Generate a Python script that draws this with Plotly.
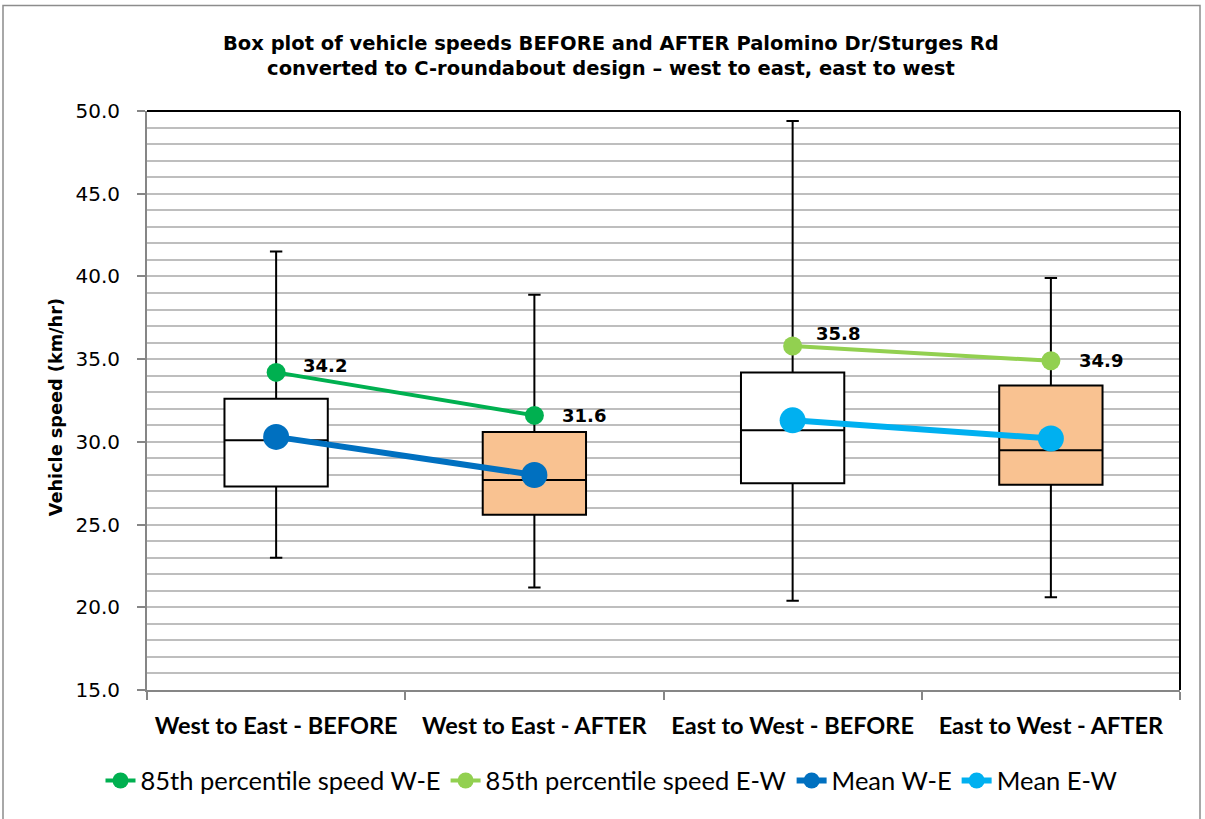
import plotly.graph_objects as go

# ---------------- data ----------------
categories = ["West to East - BEFORE", "West to East - AFTER",
              "East to West - BEFORE", "East to West - AFTER"]
box_lower = [23.0, 21.2, 20.4, 20.6]
box_q1 = [27.3, 25.6, 27.5, 27.4]
box_median = [30.1, 27.7, 30.7, 29.5]
box_q3 = [32.6, 30.6, 34.2, 33.4]
box_upper = [41.5, 38.9, 49.4, 39.9]
box_fill = ["#FFFFFF", "#F9C291", "#FFFFFF", "#F9C291"]

p85_we = [34.2, 31.6]
p85_ew = [35.8, 34.9]
mean_we = [30.3, 28.0]
mean_ew = [31.3, 30.2]
we_cats = categories[:2]
ew_cats = categories[2:]

title_text = ("<b>Box plot of vehicle speeds BEFORE and AFTER Palomino Dr/Sturges Rd<br>"
              "converted to C-roundabout design \u2013 west to east, east to west</b>")
y_title = "<b>Vehicle speed (km/hr)</b>"

F_DV = "DejaVu Sans"
F_HUM = "Lato"

fig = go.Figure()

for i, c in enumerate(categories):
    fig.add_trace(go.Box(
        x=[c], q1=[box_q1[i]], median=[box_median[i]], q3=[box_q3[i]],
        lowerfence=[box_lower[i]], upperfence=[box_upper[i]],
        fillcolor=box_fill[i], line=dict(color="black", width=2),
        width=0.4, whiskerwidth=0.12, boxpoints=False,
        showlegend=False, hoverinfo="skip"))

fig.add_trace(go.Scatter(x=we_cats, y=p85_we, mode="lines+markers",
                         name="85th percentile speed W-E",
                         line=dict(color="#00B050", width=4),
                         marker=dict(size=19, color="#00B050")))
fig.add_trace(go.Scatter(x=ew_cats, y=p85_ew, mode="lines+markers",
                         name="85th percentile speed E-W",
                         line=dict(color="#92D050", width=4),
                         marker=dict(size=19, color="#92D050")))
fig.add_trace(go.Scatter(x=we_cats, y=mean_we, mode="lines+markers",
                         name="Mean W-E",
                         line=dict(color="#0070C0", width=6),
                         marker=dict(size=26, color="#0070C0")))
fig.add_trace(go.Scatter(x=ew_cats, y=mean_ew, mode="lines+markers",
                         name="Mean E-W",
                         line=dict(color="#00B0F0", width=6),
                         marker=dict(size=26, color="#00B0F0")))

# label offsets (px) for [before, after] points
label_xshift = [[25, 26], [21, 26]]
label_yshift = [[7, 0], [12, 0]]

annotations = []
for gi, (cats, vals) in enumerate(((we_cats, p85_we), (ew_cats, p85_ew))):
    for j, (c, v) in enumerate(zip(cats, vals)):
        annotations.append(dict(x=c, y=v, xref="x", yref="y", text=f"<b>{v:.1f}</b>",
                                showarrow=False, xanchor="left", yanchor="middle",
                                xshift=label_xshift[gi][j], yshift=label_yshift[gi][j],
                                font=dict(family=F_DV, size=18, color="black")))

# plot area: left 147, right 1180, top 110.5, bottom 690
L, R, T, B = 147, 1180, 110.5, 690
W, H = 1205, 819
pw, ph = R - L, B - T

def px(x):
    return (x - L) / pw

def py(y):
    return (B - y) / ph

annotations.append(dict(x=px(611), y=py(55), xref="paper", yref="paper",
                        text=title_text, showarrow=False,
                        xanchor="center", yanchor="middle",
                        font=dict(family=F_DV, size=19.5, color="black")))

annotations.append(dict(x=px(56), y=py(407), xref="paper", yref="paper",
                        text=y_title, textangle=-90,
                        showarrow=False, xanchor="center", yanchor="middle",
                        font=dict(family=F_DV, size=17.7, color="black")))

shapes = [
    dict(type="rect", xref="paper", yref="paper", x0=px(3), x1=px(1200), y0=py(840), y1=py(5),
         line=dict(color="#8C8C8C", width=1.5), fillcolor="rgba(0,0,0,0)", layer="below"),
    dict(type="line", xref="paper", yref="paper", x0=0, x1=1, y0=1, y1=1,
         line=dict(color="black", width=2), layer="above"),
    dict(type="line", xref="paper", yref="paper", x0=1, x1=1, y0=0, y1=1,
         line=dict(color="black", width=2), layer="above"),
]

fig.update_layout(
    width=W, height=H,
    margin=dict(l=L, r=W - R, t=T, b=H - B),
    paper_bgcolor="white", plot_bgcolor="white",
    boxmode="overlay",
    font=dict(family=F_DV, color="black"),
    showlegend=True,
    legend=dict(orientation="h", x=px(612), xanchor="center", y=py(781), yanchor="middle",
                font=dict(family=F_HUM, size=25.5, color="black"), itemwidth=30,
                traceorder="normal", bgcolor="rgba(0,0,0,0)"),
    annotations=annotations,
    shapes=shapes,
)

fig.update_xaxes(type="category", categoryorder="array", categoryarray=categories,
                 range=[-0.5, 3.5], showgrid=False,
                 showline=True, linecolor="#868686", linewidth=2,
                 ticks="outside", tickson="boundaries", ticklen=8, tickcolor="#868686",
                 tickwidth=1.5, ticklabelstandoff=14,
                 tickfont=dict(family=F_HUM, size=23.5, color="black", weight="bold"))

fig.update_yaxes(range=[15, 50], tick0=15, dtick=5, tickformat=".1f",
                 showgrid=True, gridcolor="#BEBEBE", gridwidth=1.5,
                 minor=dict(dtick=1, showgrid=True, gridcolor="#BEBEBE", gridwidth=1.5),
                 showline=True, linecolor="#868686", linewidth=2,
                 ticks="outside", ticklen=8, tickcolor="#868686", tickwidth=1.5,
                 ticklabelstandoff=13, zeroline=False,
                 tickfont=dict(family=F_DV, size=20, color="black"))

fig.write_html("out.html", config={"displayModeBar": False},
               post_script="document.body.style.margin='0';")
